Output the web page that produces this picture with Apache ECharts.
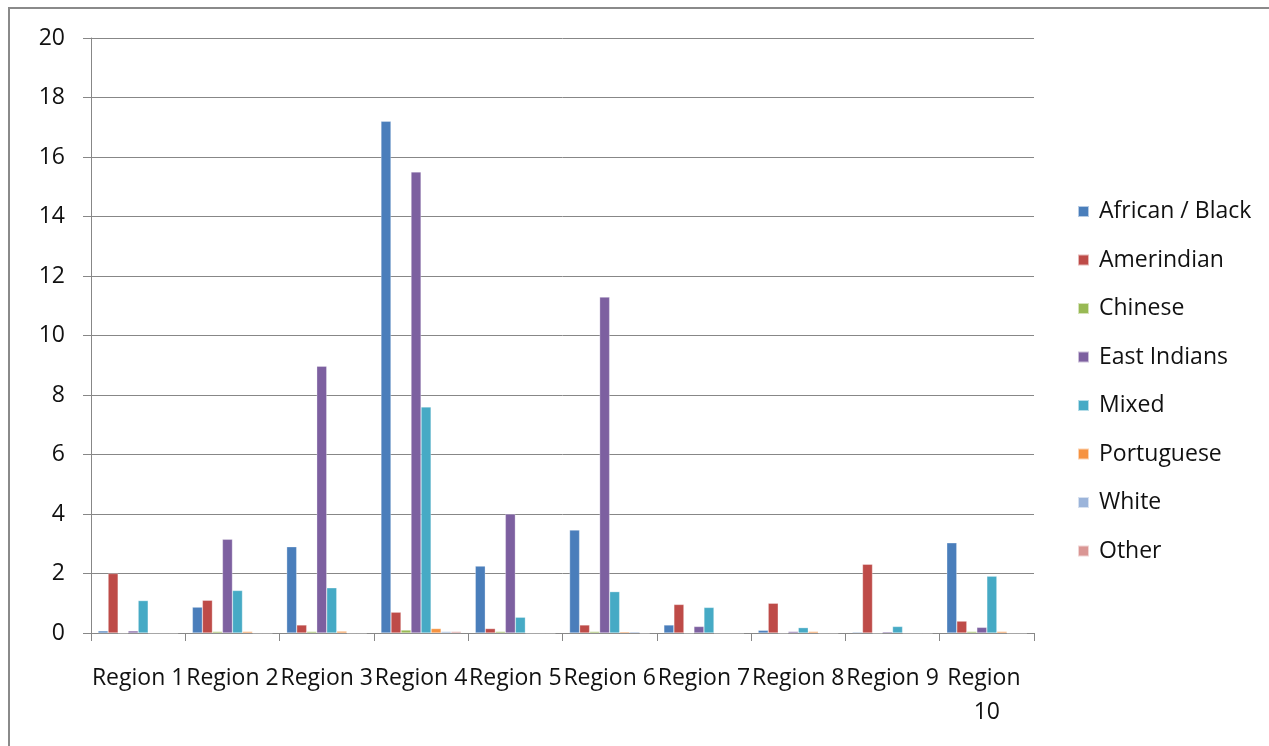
<!DOCTYPE html>
<html>
<head>
<meta charset="utf-8">
<script src="https://cdn.jsdelivr.net/npm/echarts@6/dist/echarts.min.js"></script>
<style>
  html, body { margin: 0; padding: 0; background: #fff; }
  #chart { width: 1269px; height: 746px; }
</style>
</head>
<body>
<div id="chart"></div>
<script>
// Population share by ethnic group across the ten regions
const regions = ['Region 1', 'Region 2', 'Region 3', 'Region 4', 'Region 5',
                 'Region 6', 'Region 7', 'Region 8', 'Region 9', 'Region 10'];

const africanBlack = [0.07, 0.87, 2.9, 17.2, 2.25, 3.46, 0.27, 0.09, 0.03, 3.03];
const amerindian   = [2.0, 1.1, 0.27, 0.7, 0.15, 0.27, 0.96, 1.0, 2.31, 0.4];
const chinese      = [0.0, 0.05, 0.05, 0.1, 0.05, 0.05, 0.0, 0.0, 0.0, 0.05];
const eastIndians  = [0.07, 3.15, 8.97, 15.5, 4.0, 11.29, 0.22, 0.05, 0.04, 0.19];
const mixed        = [1.09, 1.43, 1.52, 7.6, 0.53, 1.39, 0.86, 0.18, 0.22, 1.91];
const portuguese   = [0.0, 0.05, 0.06, 0.15, 0.0, 0.04, 0.0, 0.05, 0.0, 0.05];
const white        = [0.0, 0.0, 0.0, 0.05, 0.0, 0.04, 0.0, 0.0, 0.0, 0.0];
const other        = [0.0, 0.0, 0.0, 0.05, 0.0, 0.0, 0.0, 0.0, 0.0, 0.0];

const yTicks = [0, 2, 4, 6, 8, 10, 12, 14, 16, 18, 20];

const seriesDefs = [
  ['African / Black', africanBlack, '#4A7EBB'],
  ['Amerindian', amerindian, '#BE4B48'],
  ['Chinese', chinese, '#98B954'],
  ['East Indians', eastIndians, '#7D60A0'],
  ['Mixed', mixed, '#46AAC5'],
  ['Portuguese', portuguese, '#F69240'],
  ['White', white, '#9BB4DA'],
  ['Other', other, '#DA9694']
];

const FONT = 'Open Sans';
const FONT_SIZE = 23;
const TEXT_COLOR = '#111111';
const chart = echarts.init(document.getElementById('chart'), null, { renderer: 'canvas' });

chart.setOption({
  animation: false,
  backgroundColor: '#ffffff',
  graphic: [{
    type: 'rect',
    shape: { x: 9, y: 8, width: 1400, height: 900 },
    style: { fill: 'none', stroke: '#8a8a8a', lineWidth: 2 },
    silent: true
  }],
  grid: { left: 91, top: 38, right: 235, bottom: 113, containLabel: false },
  legend: {
    orient: 'vertical',
    left: 1077,
    top: 200,
    padding: 0,
    itemWidth: 11,
    itemHeight: 11,
    itemGap: 25.5,
    icon: 'rect',
    textStyle: {
      fontFamily: FONT, fontSize: FONT_SIZE, color: TEXT_COLOR,
      lineHeight: 22, padding: [0, 0, 0, 5]
    },
    data: seriesDefs.map(d => d[0])
  },
  xAxis: {
    type: 'category',
    data: regions,
    axisLine: { lineStyle: { color: '#878787', width: 1 } },
    axisTick: { show: true, length: 8, lineStyle: { color: '#878787' } },
    axisLabel: {
      interval: 0,
      margin: 28,
      width: 94,
      overflow: 'break',
      lineHeight: 34,
      fontFamily: FONT,
      fontSize: FONT_SIZE,
      color: TEXT_COLOR
    }
  },
  yAxis: {
    type: 'value',
    min: yTicks[0],
    max: yTicks[yTicks.length - 1],
    interval: 2,
    axisLine: { show: true, lineStyle: { color: '#878787', width: 1 } },
    axisTick: { show: true, length: 8, lineStyle: { color: '#878787' } },
    splitLine: { lineStyle: { color: '#878787', width: 1 } },
    axisLabel: { margin: 26, fontFamily: FONT, fontSize: FONT_SIZE, color: TEXT_COLOR }
  },
  series: seriesDefs.map(([name, values, color]) => ({
    name,
    type: 'bar',
    data: values,
    barGap: '0%',
    barCategoryGap: '15%',
    itemStyle: { color, borderColor: 'rgba(255,255,255,0.6)', borderWidth: 0.5 }
  }))
});
</script>
</body>
</html>
